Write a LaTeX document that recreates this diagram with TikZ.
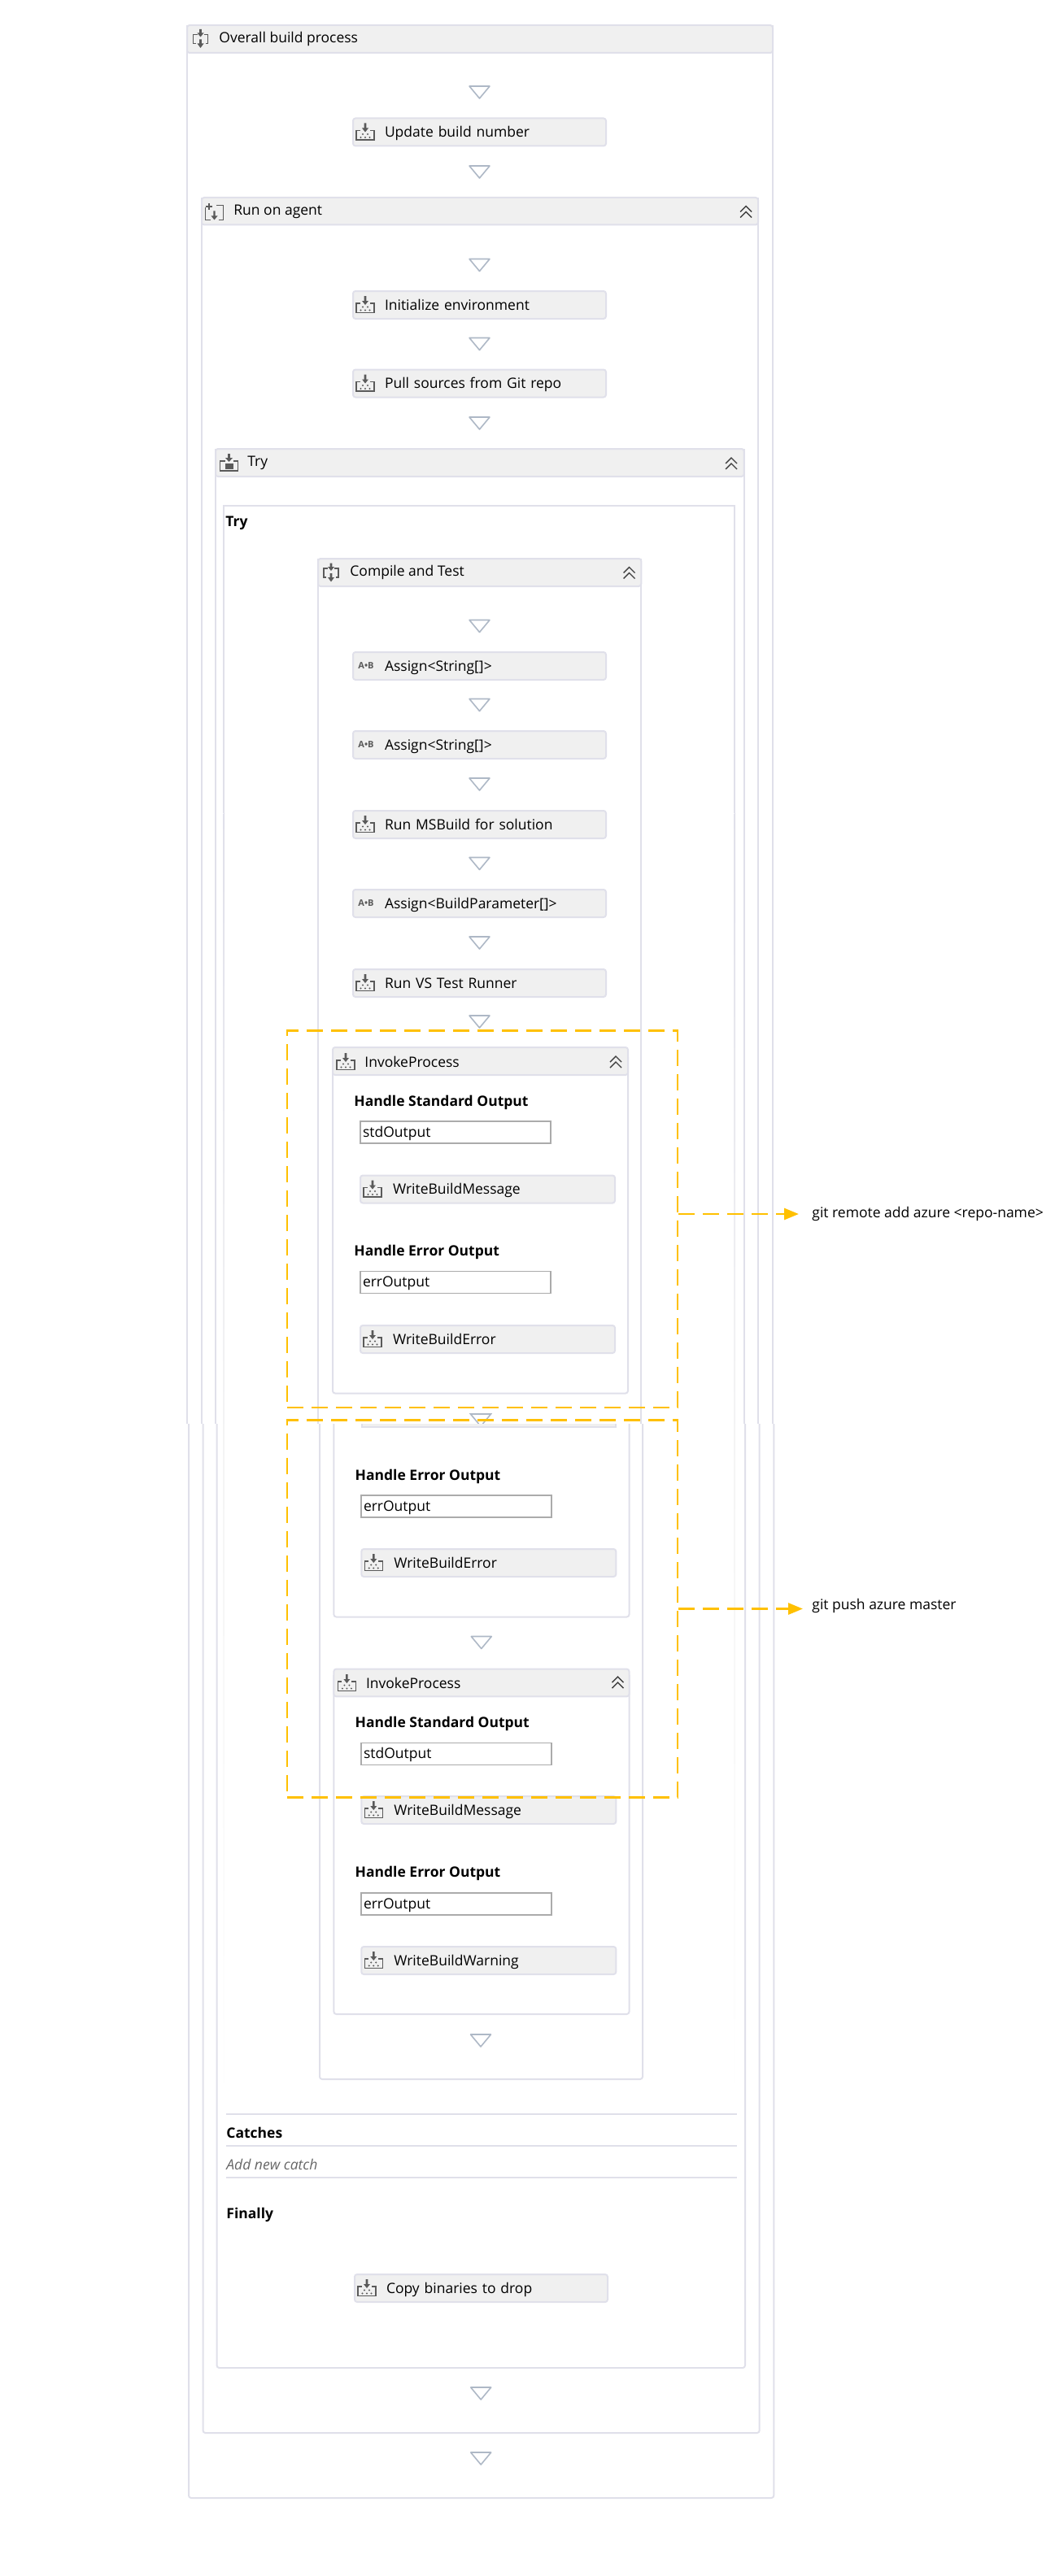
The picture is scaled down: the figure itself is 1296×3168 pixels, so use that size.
\documentclass[tikz,border=0pt]{standalone}
\usepackage{fontspec}
\setmainfont{Open Sans}
\usetikzlibrary{positioning, arrows.meta}
\definecolor{framecol}{HTML}{E0E0EA}
\definecolor{activitybg}{HTML}{F0F0F0}
\definecolor{droparrow}{HTML}{AEB8C6}
\definecolor{icongrey}{HTML}{5A5A5A}
\definecolor{fieldline}{HTML}{ABABAB}
\definecolor{dashorange}{HTML}{FFC000}
\newcommand{\wffont}{\fontsize{8.75}{10}\selectfont}
\tikzset{frame/.style={draw=framecol,line width=1pt},
         headbar/.style={frame,fill=activitybg,rounded corners=1.5pt},
         headtext/.style={anchor=west,inner sep=0pt,yshift=-1pt,font=\wffont},
         boldtext/.style={anchor=west,inner sep=0pt,yshift=-.8pt,font=\wffont\bfseries},
         activity/.style={frame,fill=activitybg,rounded corners=1.5pt,minimum width=155.5pt,minimum height=17pt,
                          text width=116.5pt,inner xsep=19.5pt,inner ysep=0pt,align=left,text height=7.5pt,text depth=1.5pt,font=\wffont},
         writeact/.style={activity,minimum width=156.5pt,inner xsep=20pt},
         outfield/.style={draw=fieldline,line width=.8pt,fill=white,minimum width=117pt,minimum height=13.5pt,
                          text width=114pt,inner xsep=1.5pt,inner ysep=0pt,align=left,text height=7pt,text depth=1.5pt,font=\wffont},
         assignmark/.style={inner sep=0pt,text=icongrey,font=\fontsize{5.5}{6}\selectfont\bfseries},
         callout/.style={draw=dashorange,line width=1.4pt,dash pattern=on 10pt off 5pt,minimum width=240pt},
         calloutarrow/.style={draw=dashorange,line width=1.4pt,dash pattern=on 10pt off 5pt,
                              -{Triangle[length=9pt,width=7pt,fill=dashorange]}},
         pics/droptri/.style={code={\draw[droparrow,line width=.8pt,line join=round] (-12.5,-7.5)--(12.5,-7.5)--(0,7.5)--cycle;}},
         pics/chevrons/.style={code={\draw[black!75,line width=.7pt] (-7,0)--(0,-7)--(7,0) (-7,7)--(0,0)--(7,7);}},
         pics/toolicon/.style={code={
            \draw[icongrey,line width=.8pt] (10,-2)--(5,-2)--(5,9.5)--(27,9.5)--(27,-2)--(22,-2);
            \fill[icongrey] (14.7,-11) rectangle (17.3,-5) (12,-5)--(20,-5)--(16,0)--cycle;
            \foreach \dx in {10.5,16,21.5}{\fill[icongrey] (\dx,6.5) circle[radius=.55pt];}
            \foreach \dx in {13,19}{\fill[icongrey] (\dx,2.5) circle[radius=.55pt];}}},
         pics/groupicon/.style={code={
            \draw[icongrey,line width=.8pt] (-4,-5)--(-9,-5)--(-9,6)--(-6,6) (4,-5)--(9,-5)--(9,6)--(6,6);
            \fill[icongrey] (-1.3,-11.5) rectangle (1.3,-7) (-4,-7)--(4,-7)--(0,-2)--cycle;
            \fill[icongrey] (-1.3,1) rectangle (1.3,6) (-4,6)--(4,6)--(0,11.5)--cycle;}},
         pics/agenticon/.style={code={
            \draw[icongrey,line width=.8pt] (-11,-5)--(-11,10)--(-5,10) (5,10)--(11,10)--(11,-8)--(2,-8);
            \draw[icongrey,line width=1pt] (-11,-6)--(-3,-6) (-7,-10)--(-7,-2);
            \fill[icongrey] (-1.2,-1) rectangle (1.2,5) (-4,5)--(4,5)--(0,10)--cycle;}},
         pics/tryicon/.style={code={
            \draw[icongrey,line width=.8pt] (-5,-2)--(-11,-2)--(-11,10)--(11,10)--(11,-2)--(5,-2);
            \fill[icongrey] (-5,1) rectangle (5,8);
            \fill[icongrey] (-1.3,-11) rectangle (1.3,-6) (-4.5,-6)--(4.5,-6)--(0,-1)--cycle;}},
        }

\begin{document}
\begin{tikzpicture}[x=.5pt,y=-.5pt]
    \useasboundingbox (0,0) rectangle (1296,3168);

    % containers, cut where the two screenshots meet
    \foreach \lu/\ru/\top/\hb/\ll/\rl/\bot in {230/950/31/65/232/951.3/3072, 248/932/243/276.5/249.5/933.7/2992,
                                               265/914.7/552/586/266.5/916/2912, 391/788.3/687/721/393/790/2557}{
        \draw[frame] (\lu,\top)--(\lu,1751) (\ru,\top)--(\ru,1751);
        \draw[frame,rounded corners=1.5pt] (\ll,1751)|-(\rl,\bot)--(\rl,1751);
        \draw[headbar] (\lu,\hb)|-(\ru,\top)--(\ru,\hb)--cycle;
    }
    \draw[frame] (275,1000)--(275,622)--(903,622)--(903,1000);
    \shade[top color=framecol,bottom color=white,middle color=white!96!black] (274.5,1000) rectangle (276,2600);
    \shade[top color=framecol,bottom color=white,middle color=white!96!black] (902.5,1000) rectangle (904,2600);

    \node[headtext](overallhead)at(269,46){Overall build process};
    \node[headtext](agenthead)at(287,258.5){Run on agent};
    \node[headtext](tryhead)at(304,567.5){Try};
    \node[boldtext](trylabel)at(277,642){Try};
    \node[headtext](compilehead)at(430,702){Compile and Test};
    \pic at (246.5,47.5){groupicon};
    \pic at (263.5,260.5){agenticon};
    \pic at (281.5,569){tryicon};
    \pic at (407,704){groupicon};
    \pic at (917,260.5){chevrons};
    \pic at (899,570){chevrons};
    \pic at (773.5,704.5){chevrons};

    \foreach \ty in {113.5,211.5,326,423,520.5,770,867,964.5,1062,1159.5,1256.5}{\pic at (589.5,\ty){droptri};}
    \draw[droparrow,line width=.8pt] (588.5,1751)--(578.5,1739)--(603.5,1739)--(593.5,1751);
    \pic at (591.8,2020){droptri};
    \pic at (591,2509.5){droptri};
    \pic at (591.2,2943.5){droptri};
    \pic at (591.2,3023.5){droptri};

    \node[activity](update)at(589.5,162.5){Update build number};
    \node[activity](init)at(589.5,375){Initialize environment};
    \node[activity](pull)at(589.5,471.5){Pull sources from Git repo};
    \node[activity](assigna)at(589.5,819){Assign<String[]>};
    \node[activity](assignb)at(589.5,916){Assign<String[]>};
    \node[activity](msbuild)at(589.5,1014){Run MSBuild for solution};
    \node[activity](assignc)at(589.5,1111){Assign<BuildParameter[]>};
    \node[activity](vstest)at(589.5,1209){Run VS Test Runner};
    \node[activity](copydrop)at(591.5,2814){Copy binaries to drop};
    \foreach \nm in {update,init,pull,msbuild,vstest,copydrop}{\pic at (\nm.west){toolicon};}
    \foreach \nm in {assigna,assignb,assignc}{\node[assignmark](\nm mark)at([xshift=8.5pt]\nm.west){A\textbullet B};}

    % first InvokeProcess, above the cut
    \draw[frame,rounded corners=1.5pt] (409,1300)--(409,1713.5)--(772,1713.5)--(772,1300);
    \draw[headbar] (409,1322)|-(772,1288)--(772,1322)--cycle;
    \node[headtext](inva)at(448,1304){InvokeProcess};
    \pic at (409,1306){toolicon};
    \pic at (757,1306){chevrons};
    \node[boldtext](stdheada)at(435,1354){Handle Standard Output};
    \node[outfield](stdfielda)at(560,1392.5){stdOutput};
    \node[writeact](msga)at(599.5,1462.5){WriteBuildMessage};
    \node[boldtext](errheada)at(435,1538){Handle Error Output};
    \node[outfield](errfielda)at(560,1577){errOutput};
    \node[writeact](erra)at(599.5,1647){WriteBuildError};

    % its lower half again, below the cut
    \draw[frame,rounded corners=1.5pt] (410.4,1751)--(410.4,1988.5)--(773.5,1988.5)--(773.5,1751);
    \draw[frame,fill=activitybg] (445,1751)--(445,1754.5)--(757,1754.5)--(757,1751);
    \node[boldtext](errheadb)at(436.3,1814){Handle Error Output};
    \node[outfield](errfieldb)at(561,1852.5){errOutput};
    \node[writeact](errb)at(600.8,1922){WriteBuildError};

    % second InvokeProcess
    \draw[frame,rounded corners=1.5pt] (410.4,2060)--(410.4,2477)--(773.5,2477)--(773.5,2060);
    \draw[headbar] (410.4,2086.4)|-(773.5,2052.5)--(773.5,2086.4)--cycle;
    \node[headtext](invb)at(449.6,2068){InvokeProcess};
    \pic at (410.4,2070){toolicon};
    \pic at (759.5,2069){chevrons};
    \node[boldtext](stdheadc)at(436.3,2118){Handle Standard Output};
    \node[outfield](stdfieldc)at(561,2157){stdOutput};
    \node[writeact](msgc)at(600.8,2226){WriteBuildMessage};
    \node[boldtext](errheadc)at(436.3,2302){Handle Error Output};
    \node[outfield](errfieldc)at(561,2341.7){errOutput};
    \node[writeact](warnc)at(600.8,2411){WriteBuildWarning};
    \foreach \nm in {msga,erra,errb,msgc,warnc}{\pic at (\nm.west){toolicon};}

    % catches and finally
    \draw[frame] (277.6,2600)--(905.7,2600) (277.6,2639)--(905.7,2639) (277.6,2678)--(905.7,2678);
    \node[boldtext](catches)at(278,2621){Catches};
    \node[headtext,text=black!60,font=\wffont\itshape](addcatch)at(278,2660){Add new catch};
    \node[boldtext](finally)at(278,2722){Finally};

    % yellow call-outs
    \node[callout,minimum height=231.75pt](remotebox)at(593,1499.25){};
    \node[callout,minimum height=232pt](pushbox)at(593,1978.5){};
    \node[headtext](remotecmd)at(998,1491){git remote add azure <repo-name>};
    \node[headtext](pushcmd)at(998,1973){git push azure master};
    \draw[calloutarrow,shorten >=8pt] (remotebox.east |- remotecmd)--(remotecmd.west);
    \draw[calloutarrow,shorten >=5.5pt] (pushbox.east)--(pushbox.east -| pushcmd.west);
\end{tikzpicture}
\end{document}
